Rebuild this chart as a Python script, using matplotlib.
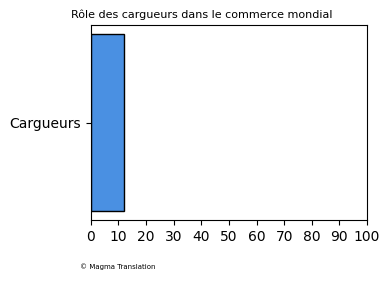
import matplotlib
matplotlib.use('Agg')
import matplotlib.pyplot as plt

categories = ['Cargueurs']
values = [12]

fig = plt.figure(figsize=(3.9, 2.82), dpi=100)
ax = fig.add_axes([0.233, 0.22, 0.708, 0.69])
ax.barh(categories, values, color='#4a90e2', edgecolor='black', height=0.8)
ax.set_xlim(0, 100)
ax.set_xticks(range(0, 101, 10))
fig.text(0.517, 0.947, 'Rôle des cargueurs dans le commerce mondial', fontsize=8,
         ha='center', va='center')
fig.text(0.205, 0.045, '© Magma Translation', fontsize=5)

fig.savefig('out.png', dpi=100)
